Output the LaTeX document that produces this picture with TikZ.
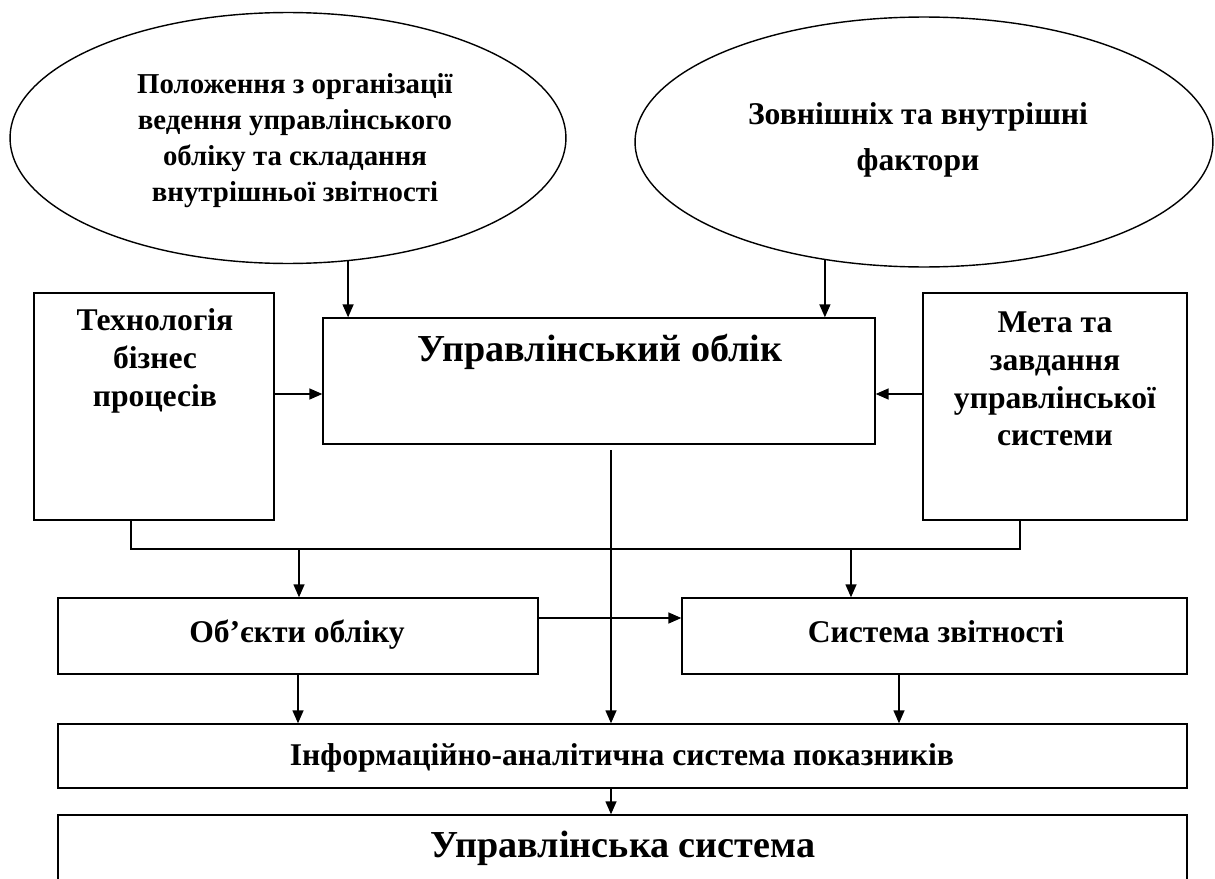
\documentclass[tikz,border=0pt]{standalone}
\usepackage{fontspec}
\setmainfont{Liberation Serif}
\usetikzlibrary{shapes.geometric,arrows.meta}
\newcommand{\nrm}{\fontsize{18}{21.5}\selectfont\bfseries}
\newcommand{\ttl}{\fontsize{21.7}{26}\selectfont\bfseries}

\begin{document}
\begin{tikzpicture}[x=0.02cm, y=-0.02cm, line width=0.8pt,
	box/.style={draw, rectangle, inner sep=0pt},
	oval/.style={draw, ellipse, inner sep=0pt},
	txt/.style={align=center, inner sep=0pt, font=\nrm},
	one/.style={txt, text height=12pt, text depth=4pt}, % single line, same baseline
	arr/.style={-{Triangle[length=0.26cm,width=0.22cm]}}]
	\useasboundingbox (0,0) rectangle (1215,879);
	% ovals on top
	\node[oval, minimum width=11.12cm, minimum height=5.02cm] (pol) at (288,138) {};
	\node[txt, font=\fontsize{16.4}{20.5}\selectfont\bfseries] (poltxt) at (295,141) {Положення з організації\\ведення управлінського\\обліку та складання\\внутрішньої звітності};
	\node[oval, minimum width=11.56cm, minimum height=5cm] (fak) at (924,142) {};
	\node[txt] (faktxt) at (918,140) {Зовнішніх та внутрішні\\[5pt]фактори};
	% middle row
	\node[box, minimum width=4.8cm, minimum height=4.54cm] (tech) at (154,406.5) {};
	\node[txt] (techtxt) at (155,361) {Технологія\\бізнес\\процесів};
	\node[box, minimum width=11.04cm, minimum height=2.52cm] (obl) at (599,381) {};
	\node[txt, font=\ttl] (obltxt) at (600,352) {Управлінський облік};
	\node[box, minimum width=5.28cm, minimum height=4.54cm] (meta) at (1055,406.5) {};
	\node[txt] (metatxt) at (1055,379) {Мета та\\завдання\\управлінської\\системи};
	% lower boxes
	\node[box, minimum width=9.6cm, minimum height=1.52cm] (obj) at (298,636) {};
	\node[one] (objtxt) at (297,635) {Об’єкти обліку};
	\node[box, minimum width=10.1cm, minimum height=1.52cm] (zvit) at (934.5,636) {};
	\node[one] (zvittxt) at (936,635) {Система звітності};
	\node[box, minimum width=22.58cm, minimum height=1.28cm] (info) at (622.5,756) {};
	\node[one] (infotxt) at (622,758) {Інформаційно-аналітична система показників};
	\node[box, minimum width=22.58cm, minimum height=1.6cm] (upr) at (622.5,855) {};
	\node[txt, font=\ttl] (uprtxt) at (623,848) {Управлінська система};
	% helper points
	\coordinate (lvl) at (0,394);
	\coordinate (busl) at (131,549);
	\coordinate (busr) at (1020,549);
	\coordinate (b1) at (299,549);
	\coordinate (b2) at (851,549);
	\coordinate (vtop) at (611,450);
	\coordinate (side) at (0,618);
	\coordinate (zv) at (899,0);
	% connectors
	\draw[arr] (pol.-64) -- (pol.-64 |- obl.north);
	\draw[arr] (fak.230) -- (fak.230 |- obl.north);
	\draw[arr] (tech.east |- lvl) -- (obl.west |- lvl);
	\draw[arr] (meta.west |- lvl) -- (obl.east |- lvl);
	\draw (tech.south -| busl) -- (busl) -- (busr) -- (meta.south -| busr);
	\draw[arr] (b1) -- (b1 |- obj.north);
	\draw[arr] (b2) -- (b2 |- zvit.north);
	\draw[arr] (obj.east |- side) -- (zvit.west |- side);
	\draw[arr] (vtop) -- (vtop |- info.north);
	\draw[arr] (obj.south) -- (obj.south |- info.north);
	\draw[arr] (zvit.south -| zv) -- (info.north -| zv);
	\draw[arr] (info.south -| vtop) -- (upr.north -| vtop);
\end{tikzpicture}
\end{document}
